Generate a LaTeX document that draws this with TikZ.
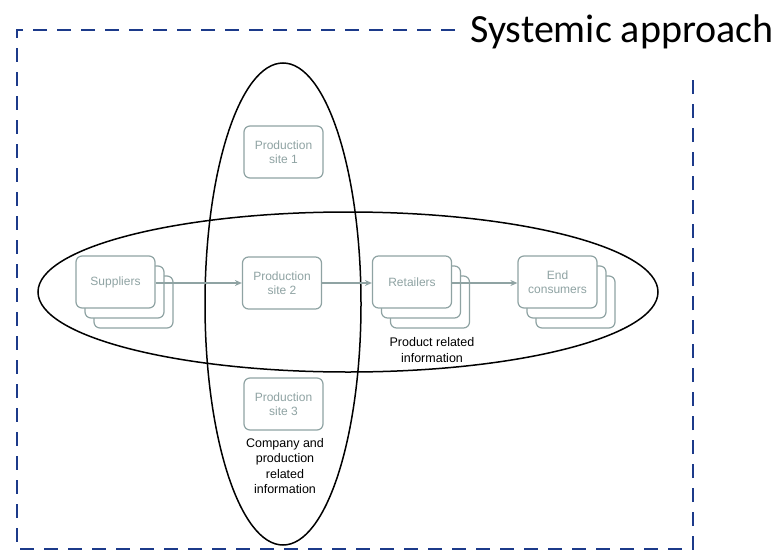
\documentclass[tikz,border=0pt]{standalone}
\usepackage{fontspec}
\setmainfont{Liberation Sans}
\newfontfamily\titlefont{Carlito}
\usetikzlibrary{arrows.meta}
\definecolor{boxgray}{HTML}{8FA3A3}
\definecolor{navy}{HTML}{1C3A8A}
\tikzset{
  x=1pt, y=-1pt,
  site/.style={draw=boxgray, line width=1.2pt, rounded corners=6pt, fill=white, minimum width=79pt, minimum height=52pt, text=boxgray, align=center, font=\fontsize{12}{14}\selectfont},
  back/.style={draw=boxgray, line width=1.2pt, rounded corners=6pt, fill=white, minimum width=79pt, minimum height=52pt},
  flow/.style={draw=boxgray, line width=1.2pt, -{Stealth[length=7pt,width=6pt]}},
  oval/.style={draw=black, line width=1.5pt},
  frame/.style={draw=navy, line width=2.8pt, dash pattern=on 14pt off 10pt},
  note/.style={align=center, font=\fontsize{12.5}{15.2}\selectfont}
}
\begin{document}
\begin{tikzpicture}
\useasboundingbox (0,0) rectangle (779,554);
% frame
\coordinate (tl) at (17,30);
\coordinate (tr) at (455,30);
\coordinate (rt) at (693,70);
\coordinate (br) at (693,549);
\coordinate (bl) at (17,549);
\draw[frame] (tr) -- (tl) -- (bl) -- (br) -- (rt);
\node[anchor=base west, inner sep=0pt, font=\titlefont\fontsize{40}{42}\selectfont] (title) at (470,42) {Systemic approach};
% ellipses
\draw[oval] (283,304) ellipse [x radius=78, y radius=241];
\draw[oval] (348,292) ellipse [x radius=310, y radius=80];
% stacked boxes
\node[back] (s3) at (133.5,302) {};
\node[back] (s2) at (124.5,292) {};
\node[site] (sup) at (115.5,282) {Suppliers};
\node[back] (r3) at (430,302) {};
\node[back] (r2) at (421,292) {};
\node[site] (ret) at (412,282) {Retailers};
\node[back] (e3) at (575.5,302) {};
\node[back] (e2) at (566.5,292) {};
\node[site] (end) at (557.5,282) {End\\consumers};
% production sites
\node[site] (p1) at (283.5,152) {Production\\site 1};
\node[site] (p2) at (282,283) {Production\\site 2};
\node[site] (p3) at (283.5,404) {Production\\site 3};
% arrows
\draw[flow] (sup.east |- 0,283) -- (p2.west |- 0,283);
\draw[flow] (p2.east |- 0,283) -- (ret.west |- 0,283);
\draw[flow] (ret.east |- 0,283) -- (end.west |- 0,283);
% notes
\node[note] (prod) at (432,350) {Product related\\information};
\node[note] (comp) at (285,466) {Company and\\production\\related\\information};
\end{tikzpicture}
\end{document}
